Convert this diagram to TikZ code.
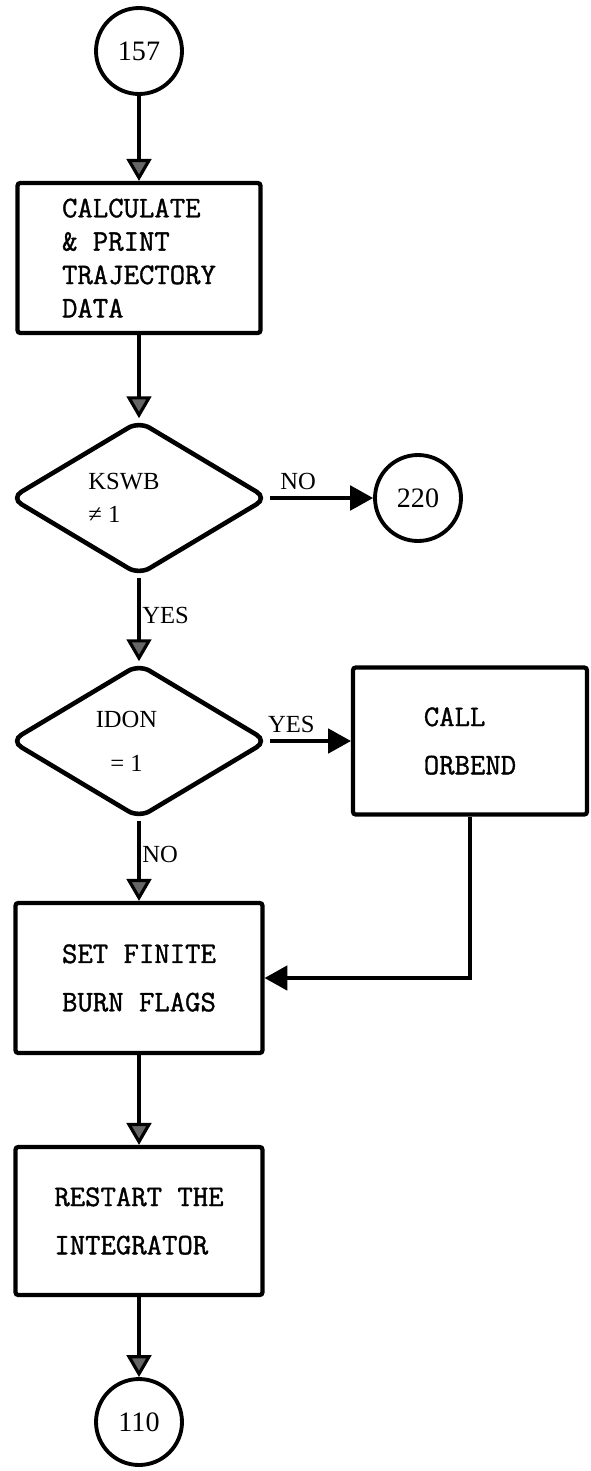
\documentclass[tikz,border=0pt]{standalone}
\usepackage{fontspec}
\usepackage{tikz}
\usetikzlibrary{positioning,shapes.geometric,arrows.meta}
\newfontfamily\typfont[FakeBold=1.2]{Latin Modern Mono}
\newfontfamily\labfont{Liberation Serif}

\begin{document}
\begin{tikzpicture}[x=0.02cm, y=-0.02cm,
    box/.style={draw, line width=2.4pt, rounded corners=1.5pt, inner sep=0pt, align=left,
                font=\typfont\fontsize{17}{19}\selectfont},
    wide/.style={font=\typfont\fontsize{17}{27.5}\selectfont},
    decide/.style={diamond, draw, line width=2.6pt, rounded corners=7pt, inner sep=0pt,
                   minimum width=5.16cm, minimum height=3.1cm, font=\labfont\fontsize{14}{19}\selectfont},
    conncirc/.style={circle, draw, line width=2.2pt, minimum size=1.72cm, inner sep=0pt,
                     font=\labfont\fontsize{16}{16}\selectfont},
    conn/.style={line width=1.8pt},
    down/.style={conn, -{Triangle[length=12.5pt,width=14pt,fill=black!60]}},
    side/.style={conn, -{Triangle[length=13pt,width=14pt]}},
    lab/.style={font=\labfont\fontsize{14}{14}\selectfont, inner sep=1pt}]
  \useasboundingbox (0,0) rectangle (591,1471);
  % main column
  \node[conncirc] (c157) at (139,51) {157};
  \node[box, minimum width=4.86cm, minimum height=3cm] (calc) at (139,258)
       {CALCULATE\\\& PRINT\\TRAJECTORY\\DATA};
  \node[decide, align=left] (kswb) at (139,498) {KSWB\hspace*{0.6cm}\\≠ 1};
  \node[conncirc] (c220) at (418,498) {220};
  \node[decide, align=center] (idon) at (139,741) {IDON\hspace*{0.5cm}\\[6pt]= 1\hspace*{0.5cm}};
  \node[box, wide, minimum width=4.68cm, minimum height=2.94cm] (orb) at (470,741) {CALL\\ORBEND};
  \node[box, wide, align=center, minimum width=4.94cm, minimum height=3cm] (setf) at (139,978)
       {SET FINITE\\BURN FLAGS};
  \node[box, wide, minimum width=4.94cm, minimum height=2.96cm] (rest) at (139,1221)
       {RESTART THE\\INTEGRATOR};
  \node[conncirc] (c110) at (139,1422) {110};
  % connectors
  \draw[down] (c157) -- (calc);
  \draw[down] (calc) -- (kswb);
  \draw[side] (kswb) -- node[lab, pos=0.27, above=3pt]{NO} (c220);
  \draw[down] (kswb) -- node[lab, pos=0.45, right]{YES} (idon);
  \draw[side] (idon) -- node[lab, pos=0.26, above=3pt]{YES} (orb);
  \draw[down] (idon) -- node[lab, pos=0.42, right]{NO} (setf);
  \draw[side] (orb.south) |- (setf.east);
  \draw[down] (setf) -- (rest);
  \draw[down] (rest) -- (c110);
\end{tikzpicture}
\end{document}
